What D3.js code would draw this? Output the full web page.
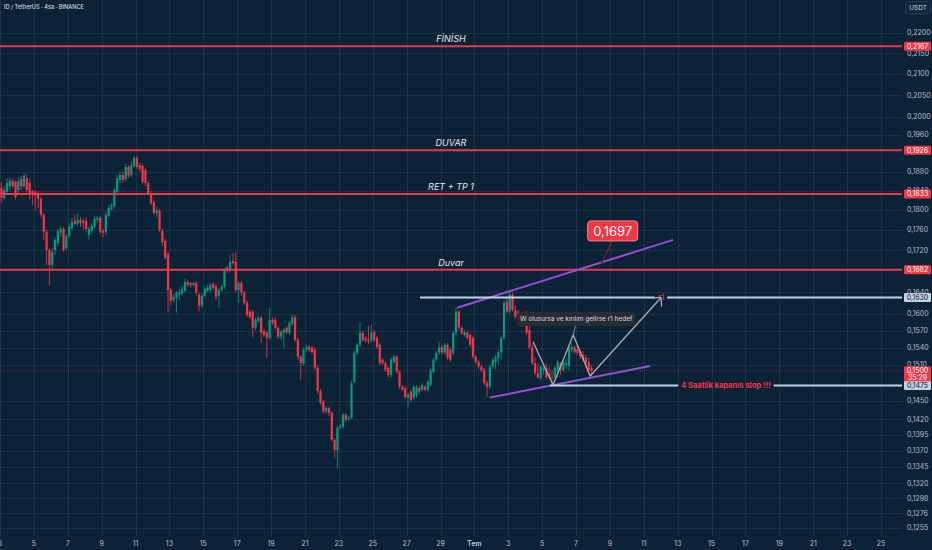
<!DOCTYPE html>
<html lang="tr">
<head>
<meta charset="utf-8">
<script src="https://d3js.org/d3.v7.min.js"></script>
<style type="text/css">
body {
  margin: 0;
  padding: 0;
  background: #0c2337;
}
svg text {
  font-family: Inter, "Noto Sans", sans-serif;
}
</style>
</head>
<body>
<div id="chart"></div>

<script type="text/javascript">

var title = "ID / TetherUS · 4sa · BINANCE";
var firstCandle = Date.UTC(2025, 5, 3, 0);
var candleHours = 4;

// 4h candles, [open, high, low, close]
var candles = [
  [0.1845,0.1858,0.1814,0.1825],[0.1825,0.1849,0.1821,0.1841],[0.1837,0.1866,0.1831,0.1856],[0.1849,0.1868,0.1841,0.1860],[0.1860,0.1866,0.1845,0.1849],
  [0.1858,0.1862,0.1821,0.1827],[0.1841,0.1868,0.1835,0.1860],[0.1864,0.1871,0.1841,0.1849],[0.1849,0.1877,0.1845,0.1871],[0.1866,0.1873,0.1831,0.1841],
  [0.1856,0.1866,0.1821,0.1835],[0.1839,0.1841,0.1810,0.1831],[0.1837,0.1841,0.1800,0.1829],[0.1835,0.1839,0.1804,0.1823],[0.1823,0.1827,0.1784,0.1790],
  [0.1790,0.1794,0.1740,0.1756],[0.1756,0.1760,0.1691,0.1720],[0.1720,0.1724,0.1653,0.1691],[0.1691,0.1724,0.1682,0.1716],[0.1720,0.1744,0.1711,0.1740],
  [0.1734,0.1762,0.1728,0.1758],[0.1754,0.1768,0.1746,0.1762],[0.1762,0.1766,0.1716,0.1720],[0.1724,0.1752,0.1720,0.1748],[0.1748,0.1772,0.1744,0.1766],
  [0.1764,0.1784,0.1760,0.1776],[0.1778,0.1790,0.1768,0.1772],[0.1772,0.1794,0.1768,0.1780],[0.1780,0.1786,0.1766,0.1774],[0.1778,0.1782,0.1760,0.1774],
  [0.1778,0.1784,0.1756,0.1762],[0.1750,0.1766,0.1740,0.1762],[0.1758,0.1774,0.1752,0.1768],[0.1766,0.1788,0.1762,0.1782],[0.1780,0.1788,0.1774,0.1784],
  [0.1784,0.1788,0.1752,0.1756],[0.1758,0.1762,0.1744,0.1754],[0.1756,0.1796,0.1750,0.1790],[0.1788,0.1810,0.1784,0.1804],[0.1802,0.1814,0.1798,0.1810],
  [0.1808,0.1845,0.1804,0.1841],[0.1837,0.1873,0.1833,0.1866],[0.1862,0.1879,0.1856,0.1873],[0.1873,0.1881,0.1856,0.1862],[0.1864,0.1897,0.1860,0.1890],
  [0.1890,0.1894,0.1866,0.1871],[0.1873,0.1901,0.1868,0.1894],[0.1892,0.1914,0.1888,0.1909],[0.1909,0.1914,0.1886,0.1890],[0.1894,0.1899,0.1881,0.1886],
  [0.1892,0.1897,0.1854,0.1858],[0.1884,0.1888,0.1849,0.1856],[0.1856,0.1860,0.1831,0.1835],[0.1835,0.1839,0.1810,0.1814],[0.1816,0.1821,0.1790,0.1794],
  [0.1794,0.1806,0.1784,0.1800],[0.1798,0.1802,0.1756,0.1760],[0.1758,0.1762,0.1728,0.1736],[0.1738,0.1742,0.1701,0.1705],[0.1712,0.1716,0.1602,0.1644],
  [0.1644,0.1648,0.1616,0.1624],[0.1625,0.1637,0.1620,0.1631],[0.1629,0.1642,0.1602,0.1639],[0.1635,0.1646,0.1625,0.1640],[0.1637,0.1651,0.1633,0.1644],
  [0.1642,0.1665,0.1639,0.1659],[0.1659,0.1663,0.1650,0.1653],[0.1657,0.1659,0.1648,0.1653],[0.1653,0.1659,0.1650,0.1657],[0.1657,0.1661,0.1633,0.1639],
  [0.1635,0.1639,0.1604,0.1615],[0.1615,0.1637,0.1611,0.1633],[0.1633,0.1650,0.1629,0.1646],[0.1642,0.1653,0.1639,0.1648],[0.1644,0.1657,0.1640,0.1653],
  [0.1655,0.1659,0.1644,0.1648],[0.1651,0.1655,0.1625,0.1631],[0.1633,0.1648,0.1611,0.1644],[0.1644,0.1653,0.1640,0.1650],[0.1650,0.1686,0.1646,0.1682],
  [0.1686,0.1690,0.1676,0.1680],[0.1682,0.1711,0.1678,0.1697],[0.1699,0.1714,0.1691,0.1695],[0.1697,0.1716,0.1640,0.1644],[0.1644,0.1661,0.1620,0.1657],
  [0.1657,0.1661,0.1633,0.1639],[0.1639,0.1642,0.1616,0.1620],[0.1620,0.1624,0.1594,0.1598],[0.1604,0.1607,0.1591,0.1594],[0.1604,0.1607,0.1557,0.1575],
  [0.1575,0.1593,0.1571,0.1589],[0.1587,0.1596,0.1584,0.1593],[0.1593,0.1596,0.1548,0.1566],[0.1569,0.1573,0.1559,0.1562],[0.1566,0.1569,0.1522,0.1557],
  [0.1557,0.1611,0.1553,0.1589],[0.1589,0.1593,0.1580,0.1584],[0.1589,0.1593,0.1571,0.1575],[0.1575,0.1578,0.1555,0.1559],[0.1559,0.1571,0.1553,0.1567],
  [0.1566,0.1575,0.1540,0.1571],[0.1575,0.1578,0.1564,0.1567],[0.1566,0.1587,0.1562,0.1584],[0.1582,0.1598,0.1578,0.1594],[0.1594,0.1598,0.1550,0.1553],
  [0.1553,0.1557,0.1519,0.1524],[0.1524,0.1527,0.1484,0.1513],[0.1512,0.1540,0.1508,0.1536],[0.1536,0.1545,0.1532,0.1541],[0.1541,0.1545,0.1532,0.1536],
  [0.1540,0.1543,0.1529,0.1532],[0.1536,0.1540,0.1501,0.1505],[0.1505,0.1508,0.1461,0.1466],[0.1466,0.1469,0.1443,0.1446],[0.1448,0.1451,0.1428,0.1432],
  [0.1432,0.1441,0.1428,0.1438],[0.1438,0.1441,0.1425,0.1430],[0.1430,0.1433,0.1384,0.1387],[0.1387,0.1390,0.1359,0.1371],[0.1371,0.1409,0.1343,0.1406],
  [0.1406,0.1412,0.1403,0.1409],[0.1408,0.1430,0.1404,0.1427],[0.1427,0.1430,0.1415,0.1419],[0.1420,0.1425,0.1417,0.1422],[0.1422,0.1483,0.1419,0.1479],
  [0.1481,0.1534,0.1478,0.1531],[0.1531,0.1548,0.1527,0.1545],[0.1545,0.1585,0.1541,0.1566],[0.1566,0.1569,0.1550,0.1553],[0.1557,0.1560,0.1548,0.1552],
  [0.1553,0.1578,0.1546,0.1550],[0.1552,0.1580,0.1548,0.1566],[0.1567,0.1571,0.1550,0.1553],[0.1557,0.1560,0.1538,0.1541],[0.1545,0.1548,0.1510,0.1513],
  [0.1519,0.1522,0.1510,0.1513],[0.1513,0.1517,0.1498,0.1501],[0.1505,0.1508,0.1489,0.1493],[0.1493,0.1522,0.1489,0.1519],[0.1515,0.1527,0.1512,0.1524],
  [0.1524,0.1527,0.1495,0.1498],[0.1498,0.1501,0.1469,0.1473],[0.1473,0.1476,0.1465,0.1468],[0.1471,0.1474,0.1453,0.1456],[0.1455,0.1463,0.1438,0.1460],
  [0.1465,0.1468,0.1448,0.1451],[0.1455,0.1476,0.1451,0.1473],[0.1458,0.1476,0.1455,0.1473],[0.1471,0.1474,0.1461,0.1465],[0.1468,0.1479,0.1465,0.1476],
  [0.1473,0.1476,0.1465,0.1468],[0.1468,0.1484,0.1465,0.1481],[0.1476,0.1505,0.1473,0.1501],[0.1498,0.1522,0.1495,0.1519],[0.1519,0.1534,0.1515,0.1531],
  [0.1531,0.1550,0.1527,0.1540],[0.1541,0.1545,0.1527,0.1531],[0.1531,0.1548,0.1527,0.1545],[0.1545,0.1548,0.1519,0.1522],[0.1536,0.1540,0.1515,0.1519],
  [0.1531,0.1569,0.1527,0.1566],[0.1566,0.1611,0.1562,0.1604],[0.1604,0.1607,0.1571,0.1575],[0.1575,0.1578,0.1562,0.1566],[0.1562,0.1571,0.1559,0.1567],
  [0.1566,0.1569,0.1553,0.1557],[0.1562,0.1566,0.1541,0.1545],[0.1557,0.1560,0.1520,0.1524],[0.1524,0.1527,0.1512,0.1515],[0.1515,0.1519,0.1503,0.1507],
  [0.1507,0.1510,0.1498,0.1501],[0.1501,0.1505,0.1476,0.1479],[0.1479,0.1483,0.1456,0.1473],[0.1473,0.1510,0.1469,0.1507],[0.1507,0.1522,0.1503,0.1519],
  [0.1515,0.1527,0.1503,0.1524],[0.1522,0.1536,0.1510,0.1532],[0.1532,0.1560,0.1519,0.1557],[0.1557,0.1625,0.1553,0.1620],[0.1622,0.1629,0.1600,0.1604],
  [0.1604,0.1640,0.1600,0.1635],[0.1635,0.1639,0.1604,0.1607],[0.1607,0.1616,0.1591,0.1594],[0.1604,0.1607,0.1591,0.1594],[0.1594,0.1602,0.1577,0.1580],
  [0.1584,0.1604,0.1580,0.1602],[0.1602,0.1605,0.1562,0.1566],[0.1571,0.1584,0.1536,0.1540],[0.1540,0.1545,0.1510,0.1513],[0.1513,0.1522,0.1493,0.1496],
  [0.1496,0.1512,0.1486,0.1489],[0.1488,0.1510,0.1484,0.1507],[0.1501,0.1508,0.1493,0.1505],[0.1505,0.1513,0.1486,0.1489],[0.1495,0.1507,0.1486,0.1489],
  [0.1489,0.1501,0.1476,0.1488],[0.1489,0.1508,0.1486,0.1505],[0.1501,0.1519,0.1489,0.1515],[0.1512,0.1515,0.1493,0.1501],[0.1501,0.1519,0.1498,0.1515],
  [0.1510,0.1522,0.1503,0.1513],[0.1508,0.1543,0.1501,0.1540],[0.1536,0.1548,0.1532,0.1541],[0.1540,0.1543,0.1529,0.1532],[0.1536,0.1543,0.1527,0.1531],
  [0.1532,0.1536,0.1520,0.1524],[0.1527,0.1534,0.1515,0.1519],[0.1522,0.1527,0.1510,0.1513],[0.1515,0.1522,0.1493,0.1501],[0.1505,0.1510,0.1491,0.1500]
];

// visible price scale labels (the ones under the level tags are not shown)
var priceTicks = [0.2200,0.2150,0.2100,0.2050,0.2000,0.1960,0.1880,0.1840,0.1800,0.1760,0.1720,
                  0.1640,0.1600,0.1570,0.1540,0.1510,0.1450,0.1420,0.1395,0.1370,0.1345,0.1320,0.1298,0.1276,0.1255];

var dayTicks = ["2025-06-03","2025-06-05","2025-06-07","2025-06-09","2025-06-11","2025-06-13","2025-06-15",
                "2025-06-17","2025-06-19","2025-06-21","2025-06-23","2025-06-25","2025-06-27","2025-06-29",
                "2025-07-01","2025-07-03","2025-07-05","2025-07-07","2025-07-09","2025-07-11","2025-07-13",
                "2025-07-15","2025-07-17","2025-07-19","2025-07-21","2025-07-23","2025-07-25"];
var dayLabels = ["3","5","7","9","11","13","15","17","19","21","23","25","27","29",
                 "Tem","3","5","7","9","11","13","15","17","19","21","23","25"];

// red horizontal levels
var levelPrices = [0.2167, 0.1926, 0.1833, 0.1682];
var levelNames = ["FİNİSH", "DUVAR", "RET + TP 1", "Duvar"];

// horizontal rays (start time, price, text)
var rayStarts = ["2025-06-27T19:00:00Z", "2025-07-05T11:00:00Z"];
var rayPrices = [0.1630, 0.1475];
var rayTexts = ["r1", "4 Saatlik kapanıs stop !!!"];

// purple channel
var channelTop = [["2025-06-29T23:30:00Z", 0.1611], ["2025-07-12T17:30:00Z", 0.1740]];
var channelBottom = [["2025-07-01T22:00:00Z", 0.1455], ["2025-07-11T09:00:00Z", 0.1508]];

// W path with arrow
var wPath = [["2025-07-04T11:00:00Z", 0.1550], ["2025-07-05T15:30:00Z", 0.1476], ["2025-07-06T20:00:00Z", 0.1562],
             ["2025-07-07T20:00:00Z", 0.1491], ["2025-07-12T00:30:00Z", 0.1630]];
var wNote = "W olusursa ve kırılım gelirse r1 hedef";

var targetTime = "2025-07-08T13:00:00Z";
var targetPrice = 0.1697;

var lastPrice = 0.1500;
var countdown = "35:29";

function loadChart(){

  var width = 932;
  var height = 550;
  var plotRight = 902;
  var plotBottom = 536;

  var red = "#f23645";
  var green = "#089981";
  var rayColor = "#c3d2e4";

  var svg = d3.select("#chart")
              .append("svg")
              .attr("width", width)
              .attr("height", height);

  svg.append("rect")
     .attr("width", width)
     .attr("height", height)
     .attr("fill", "#0c2337");

  var x = d3.scaleUtc()
            .domain([new Date(Date.UTC(2025, 5, 3)), new Date(Date.UTC(2025, 6, 25))])
            .range([0, 881]);

  var y = d3.scaleLog()
            .domain([0.1255, 0.22])
            .range([528, 33]);

  var fmt = function(v){ return d3.format(".4f")(v).replace(".", ","); };
  var pt = function(p){ return [x(new Date(p[0])), y(p[1])]; };

  svg.append("clipPath").attr("id", "plot")
     .append("rect").attr("width", plotRight).attr("height", plotBottom);

  // grid
  var grid = svg.append("g").attr("stroke", "#1a3349").attr("stroke-width", 1);
  grid.selectAll(".vg").data(dayTicks).enter().append("line")
      .attr("x1", function(d){ return Math.round(x(new Date(d + "T00:00:00Z"))) + 0.5; })
      .attr("x2", function(d){ return Math.round(x(new Date(d + "T00:00:00Z"))) + 0.5; })
      .attr("y1", 0).attr("y2", plotBottom);
  grid.selectAll(".hg").data(priceTicks).enter().append("line")
      .attr("x1", 0).attr("x2", plotRight)
      .attr("y1", function(d){ return Math.round(y(d)) + 0.5; })
      .attr("y2", function(d){ return Math.round(y(d)) + 0.5; });

  var plot = svg.append("g").attr("clip-path", "url(#plot)");

  // last price line
  plot.append("line")
      .attr("x1", 0).attr("x2", plotRight)
      .attr("y1", y(lastPrice)).attr("y2", y(lastPrice))
      .attr("stroke", red).attr("stroke-opacity", 0.4)
      .attr("stroke-dasharray", "1,1");

  // candles
  var candleTime = function(i){ return new Date(firstCandle + (i * candleHours + candleHours / 2) * 3600000); };
  var cg = plot.append("g");
  var c = cg.selectAll("g").data(candles).enter().append("g")
            .attr("fill", function(d){ return d[3] >= d[0] ? green : red; })
            .attr("stroke", function(d){ return d[3] >= d[0] ? green : red; });
  c.append("line")
   .attr("x1", function(d, i){ return x(candleTime(i)); })
   .attr("x2", function(d, i){ return x(candleTime(i)); })
   .attr("y1", function(d){ return y(d[1]); })
   .attr("y2", function(d){ return y(d[2]); })
   .attr("stroke-width", 0.8);
  c.append("rect")
   .attr("stroke", "none")
   .attr("x", function(d, i){ return x(candleTime(i)) - 1.1; })
   .attr("width", 2.2)
   .attr("y", function(d){ return y(Math.max(d[0], d[3])); })
   .attr("height", function(d){ return Math.max(0.8, Math.abs(y(d[0]) - y(d[3]))); });

  // red levels
  levelPrices.forEach(function(p, i){
    plot.append("line")
        .attr("x1", 0).attr("x2", plotRight)
        .attr("y1", y(p)).attr("y2", y(p))
        .attr("stroke", red).attr("stroke-width", 2);
    plot.append("text")
        .attr("x", plotRight / 2).attr("y", y(p) - 4)
        .attr("text-anchor", "middle")
        .attr("font-size", 9).attr("font-style", "italic")
        .attr("fill", "#e6e8ee")
        .text(levelNames[i]);
  });

  // purple channel
  [channelTop, channelBottom].forEach(function(seg){
    plot.append("line")
        .attr("x1", pt(seg[0])[0]).attr("y1", pt(seg[0])[1])
        .attr("x2", pt(seg[1])[0]).attr("y2", pt(seg[1])[1])
        .attr("stroke", "#9350d3").attr("stroke-width", 2);
  });

  // rays with centered text
  rayPrices.forEach(function(p, i){
    var x0 = x(new Date(rayStarts[i]));
    var mid = (x0 + plotRight) / 2;
    var t = plot.append("text")
        .attr("x", mid).attr("y", y(p))
        .attr("dy", "0.35em")
        .attr("text-anchor", "middle")
        .attr("font-size", i == 0 ? 8 : 7.5)
        .attr("font-weight", i == 0 ? 400 : 700)
        .attr("fill", red)
        .text(rayTexts[i]);
    var half = t.node().getComputedTextLength() / 2 + 3;
    plot.append("line").attr("x1", x0).attr("x2", mid - half)
        .attr("y1", y(p)).attr("y2", y(p))
        .attr("stroke", rayColor).attr("stroke-width", 2);
    plot.append("line").attr("x1", mid + half).attr("x2", plotRight)
        .attr("y1", y(p)).attr("y2", y(p))
        .attr("stroke", rayColor).attr("stroke-width", 2);
  });

  // W path + arrow
  var wp = wPath.map(pt);
  plot.append("path")
      .attr("d", d3.line()(wp))
      .attr("fill", "none")
      .attr("stroke", "#a9adb6").attr("stroke-width", 1.3);
  var a = wp[wp.length - 1], b = wp[wp.length - 2];
  var ang = Math.atan2(b[1] - a[1], b[0] - a[0]);
  [ang + Math.PI / 4, ang - Math.PI / 4].forEach(function(t){
    plot.append("line")
        .attr("x1", a[0]).attr("y1", a[1])
        .attr("x2", a[0] + 9 * Math.cos(t)).attr("y2", a[1] + 9 * Math.sin(t))
        .attr("stroke", "#a9adb6").attr("stroke-width", 1.3);
  });

  // W note callout
  var anchor = wp[2];
  var note = plot.append("g");
  note.append("line")
      .attr("x1", anchor[0]).attr("y1", anchor[1])
      .attr("x2", anchor[0] + 2.5).attr("y2", anchor[1] - 10)
      .attr("stroke", "#8a8d94");
  var nt = note.append("text")
      .attr("x", anchor[0] + 3).attr("y", anchor[1] - 16)
      .attr("dy", "0.35em")
      .attr("text-anchor", "middle")
      .attr("font-size", 6.5)
      .attr("fill", "#d8dbe2")
      .text(wNote);
  var nw = nt.node().getComputedTextLength() + 6;
  note.insert("rect", "text")
      .attr("x", anchor[0] + 3 - nw / 2).attr("y", anchor[1] - 23)
      .attr("width", nw).attr("height", 14)
      .attr("rx", 3)
      .attr("fill", "#2a2d33").attr("fill-opacity", 0.95);

  // target price callout
  var tp = [x(new Date(targetTime)), y(targetPrice)];
  plot.append("line")
      .attr("x1", tp[0]).attr("y1", tp[1])
      .attr("x2", tp[0] + 10).attr("y2", tp[1] - 21)
      .attr("stroke", "#a11d2b").attr("stroke-width", 1);
  plot.append("circle").attr("cx", tp[0]).attr("cy", tp[1]).attr("r", 1.3).attr("fill", "#a11d2b");
  plot.append("rect")
      .attr("x", tp[0] - 14.5).attr("y", tp[1] - 41)
      .attr("width", 50).attr("height", 20)
      .attr("rx", 3)
      .attr("fill", red).attr("stroke", "#f5848c").attr("stroke-width", 1);
  plot.append("text")
      .attr("x", tp[0] + 10.5).attr("y", tp[1] - 31)
      .attr("dy", "0.36em")
      .attr("text-anchor", "middle")
      .attr("font-size", 13)
      .attr("fill", "#ffffff")
      .text(fmt(targetPrice));

  // time axis
  svg.append("g").selectAll("text").data(dayTicks).enter().append("text")
     .attr("x", function(d){ return x(new Date(d + "T00:00:00Z")); })
     .attr("y", 546)
     .attr("text-anchor", "middle")
     .attr("font-size", 7)
     .attr("font-weight", function(d, i){ return dayLabels[i] == "Tem" ? 700 : 400; })
     .attr("fill", "#b8bcc6")
     .text(function(d, i){ return dayLabels[i]; });

  // price axis
  svg.append("g").selectAll("text").data(priceTicks).enter().append("text")
     .attr("x", 907)
     .attr("y", function(d){ return y(d); })
     .attr("dy", "0.35em")
     .attr("font-size", 7)
     .attr("fill", "#b8bcc6")
     .text(fmt);

  var tag = function(p, bg, fg){
    svg.append("rect")
       .attr("x", 904).attr("y", y(p) - 4.5)
       .attr("width", 27).attr("height", 9)
       .attr("rx", 1)
       .attr("fill", bg);
    svg.append("text")
       .attr("x", 917.5).attr("y", y(p))
       .attr("dy", "0.35em")
       .attr("text-anchor", "middle")
       .attr("font-size", 7)
       .attr("fill", fg)
       .text(fmt(p));
  };
  levelPrices.forEach(function(p){ tag(p, red, "#ffffff"); });
  rayPrices.forEach(function(p){ tag(p, rayColor, "#131722"); });

  svg.append("rect")
     .attr("x", 904).attr("y", y(lastPrice) - 4.5)
     .attr("width", 27).attr("height", 15)
     .attr("rx", 1)
     .attr("fill", red);
  svg.append("text")
     .attr("x", 917.5).attr("y", y(lastPrice))
     .attr("dy", "0.35em").attr("text-anchor", "middle")
     .attr("font-size", 7).attr("fill", "#ffffff")
     .text(fmt(lastPrice));
  svg.append("text")
     .attr("x", 917.5).attr("y", y(lastPrice) + 6.5)
     .attr("dy", "0.35em").attr("text-anchor", "middle")
     .attr("font-size", 7).attr("fill", "#ffffff")
     .text(countdown);

  // currency button
  svg.append("rect")
     .attr("x", 905.5).attr("y", 1.5)
     .attr("width", 25).attr("height", 12.5)
     .attr("rx", 2)
     .attr("fill", "#13283d").attr("stroke", "#243b52");
  svg.append("text")
     .attr("x", 918).attr("y", 8)
     .attr("dy", "0.35em").attr("text-anchor", "middle")
     .attr("font-size", 6.5).attr("fill", "#d1d4dc")
     .text("USDT");

  svg.append("text")
     .attr("x", 4).attr("y", 7)
     .attr("dy", "0.35em")
     .attr("font-size", 5.6).attr("font-weight", 500)
     .attr("fill", "#d7dae1")
     .text(title);
}

loadChart();

</script>
</body>
</html>
